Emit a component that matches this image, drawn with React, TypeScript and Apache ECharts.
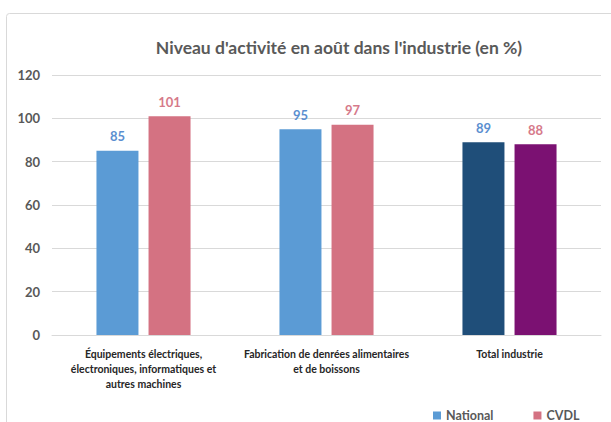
import React, { useEffect, useRef } from "react";
import * as echarts from "echarts";

const categories = [
  "Équipements électriques,\nélectroniques, informatiques et\nautres machines",
  "Fabrication de denrées alimentaires\net de boissons",
  "Total industrie",
];
const nationalValues = [85, 95, 89];
const cvdlValues = [101, 97, 88];
const yTicks = [0, 20, 40, 60, 80, 100, 120];
const title = "Niveau d'activité en août dans l'industrie (en %)";

const FONT = "Lato, 'Open Sans', sans-serif";
const nationalColors = ["#5B9BD5", "#5B9BD5", "#1F4E79"];
const cvdlColors = ["#D47282", "#D47282", "#7B1172"];

export default function App() {
  const ref = useRef<HTMLDivElement>(null);
  useEffect(() => {
    if (!ref.current) return;
    const chart = echarts.init(ref.current, null, { renderer: "svg" });
    chart.setOption({
      animation: false,
      backgroundColor: "#ffffff",
      title: {
        text: title,
        left: 334,
        textAlign: "center",
        top: 33,
        textStyle: { fontFamily: FONT, fontSize: 17.5, fontWeight: "bold", color: "#595959" },
      },
      graphic: [
        {
          type: "rect",
          shape: { x: 6.5, y: 13.5, width: 700, height: 500, r: 3 },
          style: { fill: "none", stroke: "#d9d9d9", lineWidth: 1 },
          silent: true,
        },
      ],
      legend: {
        left: 428,
        top: 404,
        itemWidth: 8,
        itemHeight: 8,
        itemGap: 40,
        icon: "rect",
        textStyle: { fontFamily: FONT, fontSize: 12.5, fontWeight: "bold", color: "#595959" },
        data: [
          { name: "National", itemStyle: { color: "#5B9BD5" } },
          { name: "CVDL", itemStyle: { color: "#D47282" } },
        ],
      },
      grid: { left: 52, right: 10, top: 75, bottom: 87 },
      xAxis: {
        type: "category",
        data: categories,
        axisTick: { show: false },
        axisLine: { lineStyle: { color: "#d9d9d9" } },
        axisLabel: {
          interval: 0,
          fontFamily: FONT,
          fontSize: 10.5,
          fontWeight: "bold",
          color: "#262626",
          lineHeight: 15,
          margin: 11,
        },
      },
      yAxis: {
        type: "value",
        min: yTicks[0],
        max: yTicks[yTicks.length - 1],
        interval: 20,
        axisLine: { show: false },
        axisTick: { show: false },
        splitLine: { lineStyle: { color: "#d9d9d9" } },
        axisLabel: {
          fontFamily: FONT,
          fontSize: 13,
          fontWeight: "bold",
          color: "#595959",
          margin: 12,
        },
      },
      series: [
        {
          name: "National",
          type: "bar",
          barWidth: 42,
          barGap: "24%",
          data: nationalValues.map((v, i) => ({ value: v, itemStyle: { color: nationalColors[i] } })),
          itemStyle: { color: "#5B9BD5" },
          label: {
            show: true,
            position: "top",
            distance: 8,
            fontFamily: FONT,
            fontSize: 13,
            fontWeight: "bold",
            color: "#5B8FD0",
          },
        },
        {
          name: "CVDL",
          type: "bar",
          barWidth: 42,
          data: cvdlValues.map((v, i) => ({ value: v, itemStyle: { color: cvdlColors[i] } })),
          itemStyle: { color: "#D47282" },
          label: {
            show: true,
            position: "top",
            distance: 8,
            fontFamily: FONT,
            fontSize: 13,
            fontWeight: "bold",
            color: "#D67A8A",
          },
        },
      ],
    });
    return () => chart.dispose();
  }, []);
  return (
    <div
      ref={ref}
      style={{ position: "fixed", left: 0, top: 0, width: 611, height: 422, background: "#fff" }}
    />
  );
}
